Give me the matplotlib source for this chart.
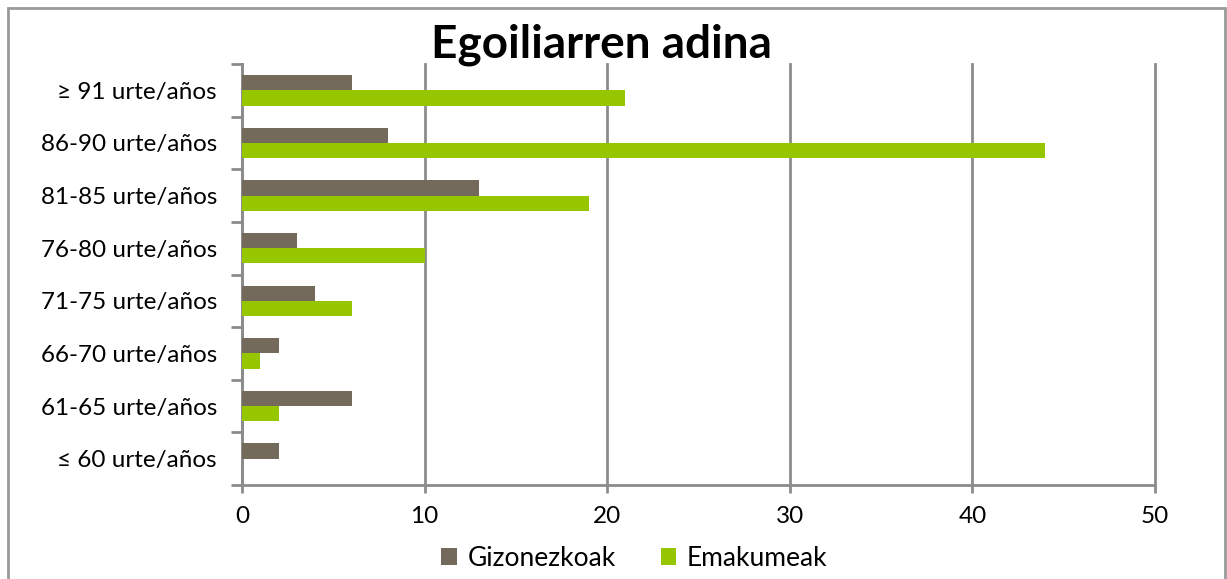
import numpy as np
import matplotlib.pyplot as plt
from matplotlib.patches import Rectangle

plt.rcParams['font.family'] = ['Lato', 'DejaVu Sans']

categories = ["≤ 60 urte/años", "61-65 urte/años", "66-70 urte/años", "71-75 urte/años",
              "76-80 urte/años", "81-85 urte/años", "86-90 urte/años", "≥ 91 urte/años"]
gizonezkoak = [2, 6, 2, 4, 3, 13, 8, 6]
emakumeak = [0, 2, 1, 6, 10, 19, 44, 21]
x_ticks = [0, 10, 20, 30, 40, 50]

c_giz = "#736a5c"
c_ema = "#95c600"
grid_c = "#8c8c8c"

fig = plt.figure(figsize=(12.27, 5.79), dpi=100)
# outer chart border (bottom edge falls outside the picture)
fig.patches.append(Rectangle((8 / 1227, -0.1), 1217 / 1227, 1.1 - 8 / 579, transform=fig.transFigure,
                             fill=False, edgecolor="#9a9a9a", linewidth=2))
ax = fig.add_axes([242 / 1227, 1 - 485 / 579, 913 / 1227, 421 / 579])

y = np.arange(len(categories))
h = 0.29
ax.barh(y + h / 2, gizonezkoak, height=h, color=c_giz, label="Gizonezkoak", zorder=3)
ax.barh(y - h / 2, emakumeak, height=h, color=c_ema, label="Emakumeak", zorder=3)

ax.set_xlim(0, 50)
ax.set_ylim(-0.5, len(categories) - 0.5)
ax.set_xticks(x_ticks)
ax.set_xticklabels([str(t) for t in x_ticks], fontsize=17.5)
ax.set_yticks(y)
ax.set_yticklabels(categories, fontsize=17.5)
ax.set_yticks(np.arange(-0.5, len(categories), 1), minor=True)
ax.tick_params(axis="y", which="major", length=0, pad=18)
ax.tick_params(axis="y", which="minor", length=8, width=2, color=grid_c)
ax.tick_params(axis="x", length=6, width=2, color=grid_c, pad=9)
ax.xaxis.grid(True, color=grid_c, linewidth=2, zorder=0)
for gl in ax.get_xgridlines():
    gl.set_clip_on(False)
ax.set_axisbelow(True)
for s in ["top", "right"]:
    ax.spines[s].set_visible(False)
for s in ["left", "bottom"]:
    ax.spines[s].set_color(grid_c)
    ax.spines[s].set_linewidth(2)

fig.text(0.49, 0.922, "Egoiliarren adina", fontsize=33, fontweight="bold", ha="center", va="center")

fig.legend(loc="center", bbox_to_anchor=(0.517, 0.036), ncol=2, frameon=False, fontsize=19,
           handlelength=0.6, handleheight=0.6, handletextpad=0.4, columnspacing=1.7)

fig.savefig("out.png", dpi=100)
